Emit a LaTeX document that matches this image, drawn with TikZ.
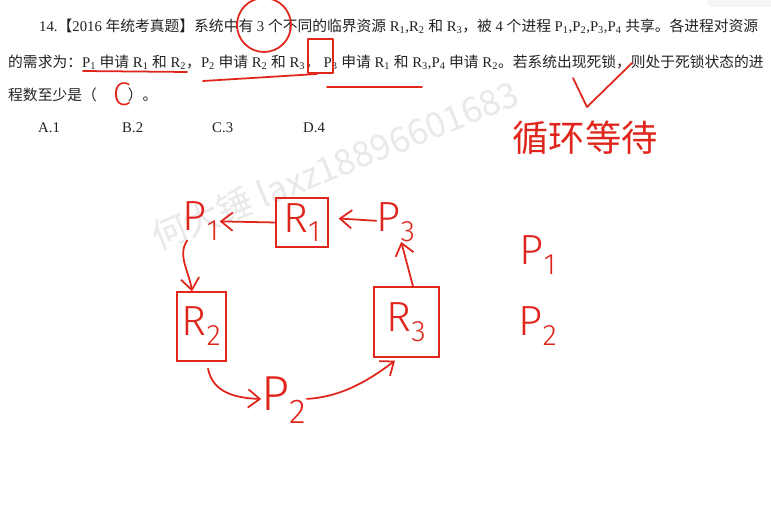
\documentclass[tikz,border=0pt]{standalone}
\usepackage{fontspec}
\setmainfont{Liberation Serif}
\newfontfamily\cjkfont{Noto Sans CJK SC}
\newfontfamily\handfont{Fira Sans Light}
\usetikzlibrary{arrows.meta}
\definecolor{ink}{HTML}{222222}
\definecolor{pen}{HTML}{E0261C}
\definecolor{filigrane}{HTML}{E9E9E9}
\newcommand{\zh}[1]{{\cjkfont #1}}
\newcommand{\ind}[1]{\textsubscript{#1}}
\tikzset{
  enonce/.style={anchor=west, inner sep=0pt, text=ink, font=\fontsize{12.6}{15}\selectfont},
  filig/.style={inner sep=0pt, text=filigrane, rotate=22, font=\cjkfont\fontsize{30}{30}\selectfont},
  trait/.style={draw=pen, line width=1.5pt, line cap=round, line join=round},
  fleche/.style={trait, -{Straight Barb[length=3.5mm,width=5.5mm]}},
  boite/.style={draw=pen, line width=1.1pt, text=pen, inner sep=0pt, font=\handfont\fontsize{36}{36}\selectfont},
  main/.style={inner sep=0pt, text=pen, font=\handfont\fontsize{36}{36}\selectfont},
}
\begin{document}
\begin{tikzpicture}[x=0.03cm, y=-0.03cm]
  % Cadre de la capture
  \useasboundingbox (0,0) rectangle (771,510);
  \fill[white] (0,0) rectangle (771,510);
  \fill[gray!8, rounded corners=4pt] (707,-10) rectangle (790,7);

  % Filigrane
  \node[filig] (wm) at (335,165) {何大锤 laxz18896601683};

  % Texte de l'énoncé
  \node[enonce] (l1) at (39,26) {14.\zh{【}2016 \zh{年统考真题】系统中有} 3 \zh{个不同的临界资源} R\ind{1},R\ind{2} \zh{和} R\ind{3}\zh{，被} 4 \zh{个进程} P\ind{1},P\ind{2},P\ind{3},P\ind{4} \zh{共享。各进程对资源}};
  \node[enonce] (l2) at (8,62) {\zh{的需求为：}P\ind{1} \zh{申请} R\ind{1} \zh{和} R\ind{2}\zh{，}P\ind{2} \zh{申请} R\ind{2} \zh{和} R\ind{3}\zh{，} P\ind{3} \zh{申请} R\ind{1} \zh{和} R\ind{3},P\ind{4} \zh{申请} R\ind{2}\zh{。若系统出现死锁，则处于死锁状态的进}};
  \node[enonce] (l3) at (8,95) {\zh{程数至少是（}\hspace{2.1em}\zh{）。}};

  % Les choix
  \foreach \x/\l/\n in {38/A/1, 122/B/2, 212/C/3, 303/D/4} {
    \node[enonce] (opt\l) at (\x,128) {\l.\n};
  }

  % Annotations sur l'énoncé
  \draw[trait] (264,25) circle (27);
  \draw[trait] (83,71) -- (187,72);
  \draw[trait] (203,81) -- (317,74);
  \draw[trait, line width=1.1pt] (308,39) rectangle (333,73);
  \draw[trait] (327,87) -- (422,87);
  \node[main, font=\handfont\fontsize{28}{28}\selectfont] (rep) at (122,94) {C};
  \draw[trait] (573,78) -- (587,107) -- (632,63);
  \node[main, font=\cjkfont\fontsize{31}{31}\selectfont] (cycle) at (585,138) {循环等待};

  % Graphe d'allocation
  \node[boite, minimum width=1.56cm, minimum height=1.47cm] (r1) at (302,222.5) {R\ind{1}};
  \node[boite, minimum width=1.47cm, minimum height=2.07cm] (r2) at (201.5,326.5) {R\ind{2}};
  \node[boite, minimum width=1.95cm, minimum height=2.1cm] (r3) at (406.5,322) {R\ind{3}};
  \node[main] (p1) at (201,221) {P\ind{1}};
  \node[main] (p3) at (396,222) {P\ind{3}};
  \node[main, font=\handfont\fontsize{42}{42}\selectfont] (p2) at (284,400) {P\ind{2}};

  % Les arcs du cycle
  \draw[fleche] (r1.west) -- ([shift={(19,0)}]p1);
  \draw[fleche] ([shift={(-16,-4)}]p3) -- ([shift={(10,-4)}]r1.east);
  \draw[fleche] ([shift={(6.5,0)}]r3.north) -- ([shift={(17,23)}]p3);
  \draw[fleche] ([shift={(-19,14)}]p1) .. controls +(-5,20) and +(-3,-20) .. ([shift={(-9.5,0)}]r2.north);
  \draw[fleche] ([shift={(6.5,7)}]r2.south) .. controls +(5,25) and +(-25,0) .. ([shift={(-22,-2)}]p2);
  \draw[fleche] ([shift={(31,7)}]p2) .. controls +(30,-10) and +(-20,15) .. ([shift={(-11.5,3)}]r3.south);

  % A droite
  \foreach \n/\y in {1/255, 2/326} {
    \node[main] (q\n) at (538,\y) {P\ind{\n}};
  }
\end{tikzpicture}
\end{document}
